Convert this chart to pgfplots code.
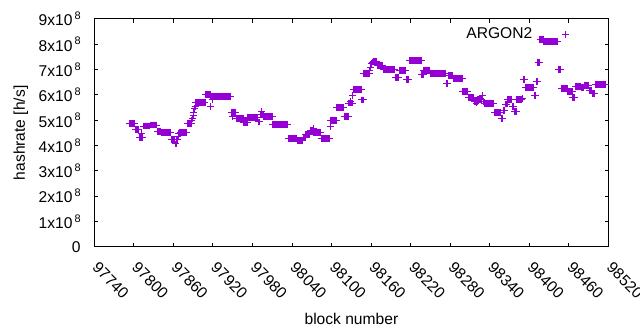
\documentclass[border=0pt]{standalone}
\usepackage{pgfplots}
\pgfplotsset{compat=1.18}
\usepackage{fontspec}
\setmainfont{Liberation Sans}
\definecolor{gpviolet}{RGB}{148,0,211}
\newcommand{\sci}[1]{#1x10\hspace{1.6pt}\raisebox{4.7pt}{\fontsize{8.2}{9}\selectfont 8}}
\begin{document}
\fontsize{11.7}{14}\selectfont
\begin{tikzpicture}
\begin{axis}[
  scale only axis, width=385.7pt, height=170.8pt,
  xmin=97740, xmax=98520, ymin=0, ymax=9,
  axis line style={line width=0.75pt},
  tick style={line width=0.75pt, black},
  major tick length=3pt,
  tick align=inside, tick pos=both,
  scaled x ticks=false,
  xtick={97740,97800,97860,97920,97980,98040,98100,98160,98220,98280,98340,98400,98460,98520},
  ytick={0,1,2,3,4,5,6,7,8,9},
  yticklabels={0,\sci{1},\sci{2},\sci{3},\sci{4},\sci{5},\sci{6},\sci{7},\sci{8},\sci{9}},
  /pgf/number format/1000 sep={},
  /pgf/number format/assume math mode=true,
  xticklabel={\pgfmathprintnumber[fixed,precision=0,1000 sep={}]{\tick}},
  tick label style={font=\fontsize{11.7}{14}\selectfont},
  xticklabel style={xshift=3.75pt, yshift=-10.5pt, rotate=-45, anchor=north west, inner sep=0pt},
  yticklabel style={anchor=east, inner sep=0pt, xshift=-10pt},
  xlabel={block number},
  ylabel={hashrate [h/s]},
  label style={font=\fontsize{11.7}{14}\selectfont},
  xlabel style={at={(axis description cs:0.5,0)}, anchor=base, yshift=-58.7pt},
  ylabel style={at={(axis description cs:-0.1348,0.5)}, anchor=base},
  legend plot pos=right,
  legend style={draw=none, fill=none, at={(0.9306,0.931)}, anchor=east, font=\fontsize{11.7}{14}\selectfont, column sep=20pt},
]
\addplot[only marks, mark=+, mark size=2.6pt, color=gpviolet, mark options={line width=0.75pt}] table[row sep=\\] {
x y\\
97793 4.87\\97794 4.87\\97795 4.87\\97796 4.87\\97797 4.87\\97798 4.87\\97799 4.87\\97800 4.87\\97801 4.87\\
97802 4.64\\97803 4.64\\97804 4.64\\97805 4.64\\97806 4.64\\97807 4.64\\
97808 4.32\\97809 4.32\\97810 4.32\\97811 4.32\\97812 4.32\\97813 4.32\\97812 4.48\\
97814 4.77\\97815 4.77\\97816 4.77\\97817 4.77\\97818 4.77\\97819 4.77\\97820 4.77\\97821 4.77\\97822 4.77\\97823 4.77\\97824 4.77\\
97825 4.81\\97826 4.81\\97827 4.81\\97828 4.81\\97829 4.81\\97830 4.81\\97831 4.81\\97832 4.81\\97833 4.81\\97834 4.81\\97835 4.81\\
97836 4.57\\97837 4.57\\97838 4.57\\97839 4.57\\97840 4.57\\97841 4.57\\
97842 4.52\\97843 4.52\\97844 4.52\\97845 4.52\\97846 4.52\\97847 4.52\\97848 4.52\\97849 4.52\\97850 4.52\\97851 4.52\\97852 4.52\\97853 4.52\\97854 4.52\\97855 4.52\\97856 4.52\\
97857 4.24\\97858 4.24\\97859 4.24\\97860 4.24\\97861 4.24\\97862 4.24\\
97863 4.06\\97864 4.06\\97865 4.24\\97866 4.24\\97867 4.35\\97868 4.48\\97869 4.48\\
97870 4.52\\97871 4.52\\97872 4.52\\97873 4.52\\97874 4.52\\97875 4.52\\97876 4.52\\97877 4.52\\97878 4.52\\97879 4.52\\97880 4.52\\
97881 4.88\\97882 4.88\\97883 4.88\\97884 4.88\\97885 4.88\\97886 4.88\\97887 4.88\\
97888 4.98\\97889 5.05\\97890 5.2\\97891 5.3\\97892 5.45\\97893 5.53\\
97894 5.71\\97895 5.71\\97896 5.71\\97897 5.71\\97898 5.71\\97899 5.71\\97900 5.71\\97901 5.71\\97902 5.71\\97903 5.71\\97904 5.71\\97905 5.71\\97906 5.71\\97907 5.71\\97908 5.71\\
97909 6.0\\97910 6.0\\97911 6.0\\97912 6.0\\97913 6.0\\97914 6.0\\97915 6.0\\97916 6.0\\97916 5.56\\
97917 5.94\\97918 5.94\\97919 5.8\\97920 5.94\\97921 5.94\\
97922 5.94\\97923 5.94\\97924 5.94\\97925 5.94\\97926 5.94\\97927 5.94\\97928 5.94\\97929 5.94\\97930 5.94\\97931 5.94\\97932 5.94\\97933 5.94\\97934 5.94\\
97935 5.94\\97936 5.94\\97937 5.94\\97938 5.94\\97939 5.94\\97940 5.94\\97941 5.94\\97942 5.94\\97943 5.94\\97944 5.94\\97945 5.94\\97946 5.94\\97947 5.94\\
97948 5.32\\97949 5.32\\97950 5.32\\97951 5.32\\97952 5.32\\97953 5.32\\97954 5.32\\97950 5.16\\
97955 5.07\\97956 5.07\\97957 5.07\\97958 5.07\\97959 5.07\\97960 5.07\\97961 5.07\\97962 5.07\\97963 5.07\\97964 5.07\\97965 5.07\\97966 5.07\\
97967 4.90\\97968 4.90\\97969 4.90\\97970 4.90\\97971 4.90\\97972 4.90\\
97973 5.11\\97974 5.11\\97975 5.11\\97976 5.11\\97977 5.11\\97978 5.11\\97979 5.11\\97980 5.11\\97981 5.11\\97982 5.11\\97983 5.11\\97984 5.11\\97985 5.11\\97986 5.11\\97987 5.11\\97988 5.11\\
97989 4.93\\97990 4.93\\97991 4.93\\
97992 5.23\\97993 5.23\\97994 5.23\\97995 5.23\\97996 5.23\\97993 5.34\\
97997 5.15\\97998 5.15\\97999 5.15\\98000 5.15\\98001 5.15\\98002 5.15\\98003 5.15\\98004 5.15\\98005 5.15\\98006 5.15\\98007 5.15\\98008 5.15\\98009 5.15\\98010 5.15\\
98011 4.84\\98012 4.84\\98013 4.84\\98014 4.84\\98015 4.84\\98016 4.84\\98017 4.84\\98018 4.84\\98019 4.84\\98020 4.84\\98021 4.84\\98022 4.84\\
98023 4.84\\98024 4.84\\98025 4.84\\98026 4.84\\98027 4.84\\98028 4.84\\98029 4.84\\98030 4.84\\98031 4.84\\98032 4.84\\98033 4.84\\
98034 4.28\\98035 4.28\\98036 4.28\\98037 4.28\\98038 4.28\\98039 4.28\\98040 4.28\\98041 4.28\\98042 4.28\\98043 4.28\\98044 4.28\\98045 4.28\\98046 4.28\\98047 4.28\\
98048 4.20\\98049 4.20\\98050 4.20\\98051 4.20\\98052 4.20\\98053 4.20\\98054 4.20\\98055 4.20\\98056 4.20\\
98057 4.33\\98058 4.33\\98059 4.33\\98060 4.33\\
98061 4.45\\98062 4.45\\98063 4.45\\98064 4.45\\98065 4.45\\98066 4.45\\98067 4.45\\
98068 4.60\\98069 4.60\\98070 4.60\\98071 4.60\\98072 4.68\\
98073 4.53\\98074 4.53\\98075 4.53\\98076 4.53\\98077 4.53\\98078 4.53\\98079 4.53\\98080 4.53\\98081 4.53\\98082 4.53\\98083 4.53\\
98084 4.28\\98085 4.28\\98086 4.28\\98087 4.28\\98088 4.28\\98089 4.28\\98090 4.28\\98091 4.28\\98092 4.28\\98093 4.28\\98094 4.28\\98095 4.28\\98096 4.28\\98097 4.28\\
98098 4.74\\
98099 5.0\\98100 5.0\\98101 5.0\\98102 5.0\\98103 5.0\\98104 5.0\\98105 5.0\\98106 5.0\\98107 5.0\\
98108 5.5\\98109 5.5\\98110 5.5\\98111 5.5\\98112 5.5\\98113 5.5\\98114 5.5\\98115 5.5\\98116 5.5\\98117 5.5\\98118 5.5\\
98119 5.16\\98120 5.16\\98121 5.16\\98122 5.16\\98123 5.16\\98124 5.16\\98125 5.16\\
98126 5.68\\98127 5.68\\98128 5.68\\98129 5.68\\98130 5.68\\98131 5.68\\98132 5.68\\98129 5.75\\98132 5.96\\
98133 6.22\\98134 6.22\\98135 6.22\\98136 6.22\\98137 6.22\\98138 6.22\\98139 6.22\\98140 6.22\\98141 6.22\\98142 6.22\\98143 6.22\\98144 6.22\\98145 6.22\\
98146 5.8\\98147 5.8\\98148 5.8\\
98149 6.85\\98150 6.85\\98151 6.85\\98152 6.85\\98153 6.85\\98154 6.85\\98155 6.85\\98156 6.85\\98157 6.85\\
98158 6.98\\98159 7.1\\98160 7.25\\98161 7.25\\98162 7.3\\
98163 7.33\\98164 7.33\\98165 7.33\\98166 7.33\\98167 7.33\\98168 7.33\\
98169 7.18\\98170 7.18\\98171 7.18\\98172 7.18\\98173 7.18\\98174 7.18\\98175 7.18\\98176 7.18\\98177 7.18\\
98178 7.0\\98179 7.0\\98180 7.0\\98181 7.0\\98182 7.0\\98183 7.0\\98184 7.0\\98185 7.0\\98186 7.0\\98187 7.0\\
98188 7.0\\98189 7.0\\98190 7.0\\98191 7.0\\98192 7.0\\98193 7.0\\98194 7.0\\98195 7.0\\98196 7.0\\
98197 6.69\\98198 6.69\\98199 6.69\\98200 6.69\\98201 6.69\\98202 6.69\\
98203 6.97\\98204 6.97\\98205 6.97\\98206 6.97\\98207 6.97\\98208 6.97\\98209 6.97\\98210 6.97\\98211 6.97\\98212 6.97\\
98213 6.62\\98214 6.62\\98215 6.62\\98216 6.62\\98217 6.62\\
98218 7.35\\98219 7.35\\98220 7.35\\98221 7.35\\98222 7.35\\98223 7.35\\98224 7.35\\98225 7.35\\98226 7.35\\98227 7.35\\
98228 7.35\\98229 7.35\\98230 7.35\\98231 7.35\\98232 7.35\\98233 7.35\\98234 7.35\\98235 7.35\\98236 7.35\\
98237 6.79\\98238 6.79\\98239 6.79\\
98240 6.98\\98241 6.98\\98242 6.98\\98243 6.98\\98244 6.98\\98245 6.98\\98246 6.98\\98247 6.98\\98248 6.98\\98249 6.98\\
98250 6.85\\98251 6.85\\98252 6.85\\98253 6.85\\98254 6.85\\98255 6.85\\98256 6.85\\98257 6.85\\98258 6.85\\98259 6.85\\98260 6.85\\98261 6.85\\
98262 6.85\\98263 6.85\\98264 6.85\\98265 6.85\\98266 6.85\\98267 6.85\\98268 6.85\\98269 6.85\\98270 6.85\\98271 6.85\\98272 6.85\\98273 6.85\\
98274 6.46\\98275 6.46\\98276 6.46\\
98277 6.75\\98278 6.75\\98279 6.75\\98280 6.75\\98281 6.75\\98282 6.75\\98283 6.75\\98284 6.75\\
98285 6.65\\98286 6.65\\98287 6.65\\98288 6.65\\98289 6.65\\98290 6.65\\98291 6.65\\98292 6.65\\98293 6.65\\98294 6.65\\98295 6.65\\98296 6.65\\98297 6.65\\98298 6.65\\
98299 6.13\\98300 6.13\\98301 6.13\\98302 6.13\\98303 6.13\\98304 6.13\\98305 6.13\\98306 6.13\\
98307 5.90\\98308 5.90\\98309 5.90\\98310 5.90\\98311 5.90\\98312 5.90\\98313 5.90\\98314 5.90\\98315 5.90\\
98316 5.73\\98317 5.73\\98318 5.73\\98319 5.73\\98320 5.73\\98321 5.73\\98319 5.68\\
98322 5.82\\98323 5.82\\98324 5.82\\98325 5.82\\98326 5.82\\98327 5.82\\98328 5.82\\
98329 5.96\\98330 5.75\\98331 5.75\\
98332 5.67\\98333 5.67\\98334 5.67\\98335 5.67\\98336 5.67\\98337 5.67\\98338 5.67\\98339 5.67\\98340 5.67\\98341 5.67\\98342 5.67\\98343 5.67\\98344 5.67\\98345 5.67\\98346 5.67\\
98347 5.30\\98348 5.30\\98349 5.30\\98350 5.30\\98351 5.30\\98352 5.30\\98353 5.30\\98354 5.30\\98355 5.30\\98356 5.30\\
98357 5.05\\98358 5.05\\98359 5.05\\
98360 5.40\\98361 5.40\\98362 5.40\\
98363 5.64\\98364 5.64\\98365 5.64\\98366 5.64\\
98367 5.82\\98368 5.82\\98369 5.82\\98370 5.82\\98371 5.82\\98372 5.82\\98373 5.82\\
98374 5.56\\98375 5.56\\98376 5.56\\
98377 5.34\\98378 5.34\\98379 5.34\\98380 5.34\\
98381 5.81\\98382 5.81\\98383 5.81\\98384 5.81\\98385 5.81\\98386 5.81\\98387 5.81\\98388 5.81\\
98389 5.86\\98390 5.86\\
98391 6.62\\98392 6.62\\98393 6.62\\
98394 6.30\\98395 6.30\\98396 6.30\\98397 6.30\\98398 6.30\\98399 6.30\\98400 6.30\\98401 6.30\\98402 6.30\\98403 6.30\\98404 6.30\\98405 6.30\\98406 6.30\\
98407 5.98\\98408 5.98\\98409 5.98\\
98410 6.53\\98411 6.53\\98412 6.53\\
98413 7.29\\98414 7.29\\98415 7.29\\
98416 8.20\\98417 8.20\\98418 8.20\\98419 8.20\\98420 8.20\\98421 8.20\\
98422 8.10\\98423 8.10\\98424 8.10\\98425 8.10\\98426 8.10\\98427 8.10\\98428 8.10\\98429 8.10\\98430 8.10\\98431 8.10\\98432 8.10\\
98433 8.10\\98434 8.10\\98435 8.10\\98436 8.10\\98437 8.10\\98438 8.10\\98439 8.10\\98440 8.10\\98441 8.10\\98442 8.10\\98443 8.10\\
98444 6.99\\98445 6.99\\98446 6.99\\98447 6.99\\
98448 6.26\\98449 6.26\\98450 6.26\\98451 6.26\\98452 6.26\\98453 6.26\\98454 6.26\\98455 6.26\\98456 6.26\\98457 6.26\\
98458 6.13\\98459 6.13\\98460 6.13\\98461 6.13\\98462 6.13\\98463 6.13\\98464 6.13\\98465 6.13\\
98466 5.90\\98467 5.90\\98468 5.90\\98469 5.90\\
98470 6.35\\98471 6.35\\98472 6.35\\98473 6.35\\98474 6.35\\98475 6.35\\98476 6.35\\98477 6.35\\98478 6.35\\
98479 6.30\\98480 6.30\\98481 6.30\\98482 6.30\\
98483 6.39\\98484 6.39\\98485 6.39\\98486 6.39\\98487 6.39\\98488 6.39\\98489 6.39\\98490 6.39\\
98491 6.17\\98492 6.17\\98493 6.17\\98494 6.17\\
98495 6.04\\98496 6.04\\98497 6.04\\98498 6.04\\98499 6.04\\
98500 6.42\\98501 6.42\\98502 6.42\\98503 6.42\\98504 6.42\\98505 6.42\\98506 6.42\\98507 6.42\\98508 6.42\\
98509 6.42\\98510 6.42\\98511 6.42\\98512 6.42\\98513 6.42\\98514 6.42\\98515 6.42\\98516 6.42\\
};
\addlegendentry{ARGON2}
\end{axis}
\pgfresetboundingbox
\path[use as bounding box] ([shift={(-70.7pt,-62.5pt)}]current axis.south west) rectangle ([shift={(23.6pt,14.25pt)}]current axis.north east);
\end{tikzpicture}
\end{document}
